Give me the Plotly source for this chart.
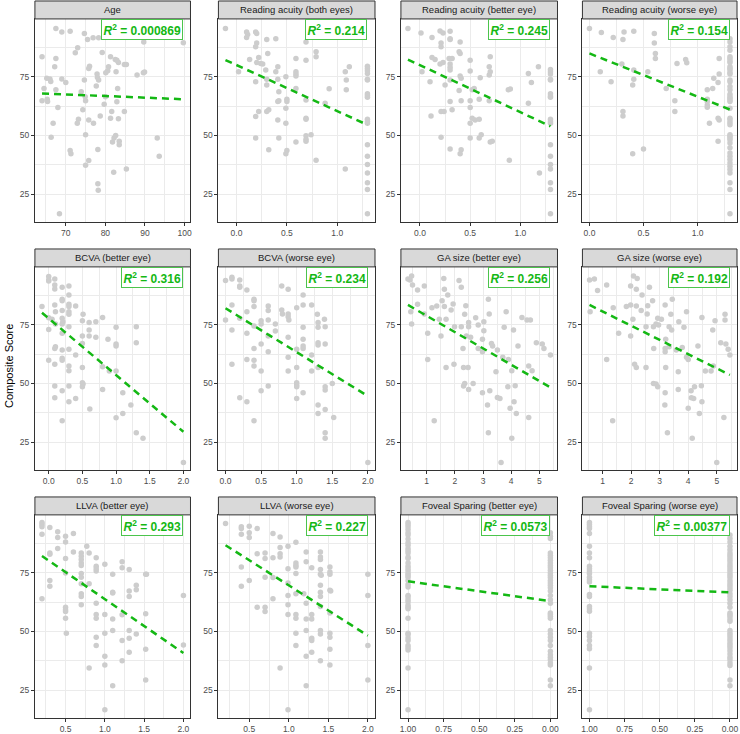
import plotly.graph_objects as go

# facet titles and R^2 labels
titles = ["Age", "Reading acuity (both eyes)", "Reading acuity (better eye)", "Reading acuity (worse eye)",
          "BCVA (better eye)", "BCVA (worse eye)", "GA size (better eye)", "GA size (worse eye)",
          "LLVA (better eye)", "LLVA (worse eye)", "Foveal Sparing (better eye)", "Foveal Sparing (worse eye)"]
r2 = ["0.000869", "0.214", "0.245", "0.154", "0.316", "0.234", "0.256", "0.192", "0.293", "0.227", "0.0573", "0.00377"]

# --- points ---
age_x = [67.5, 69, 71.1, 64, 67.5, 67.2, 65.2, 66, 66.2, 69,
         70, 64.5, 67.5, 64, 65.3, 65.4, 68, 66.8, 66.3, 71.1,
         71.3, 68.4, 74.7, 75.5, 76.9, 78.3, 73, 72.4, 79.2, 75.8,
         76, 77.9, 78, 78.3, 74.7, 77.7, 73.9, 74.9, 75, 74.3,
         73.2, 72.9, 75.8, 77, 78.7, 75, 78.1, 75.8, 75, 78.1,
         78.2, 80, 79.7, 81.3, 82.5, 82.9, 83.3, 84.8, 85.3, 80.8,
         80.6, 80.1, 82.7, 83.1, 82.9, 81.6, 81.3, 83.3, 84.8, 82.6,
         82.2, 81.8, 83.5, 83.5, 85.3, 82.1, 88, 89.6, 89.9, 89.7,
         99.7, 93.1, 93.6]
age_y = [95.5, 94, 94.3, 83.5, 82.8, 79.2, 74.3, 74, 73, 74,
         72.5, 70, 69.4, 64.8, 65.4, 64.4, 61.9, 55.2, 49.2, 43.6,
         42.2, 16.7, 93.4, 90.8, 91.6, 91.6, 87.3, 85.2, 85.3, 78.5,
         79.5, 76.1, 74.7, 73.6, 73.6, 71, 68.6, 66.5, 64.8, 60.9,
         56.9, 55.2, 56.6, 55.2, 58.3, 50.3, 44, 39.3, 37.3, 29.4,
         26.7, 66.5, 63.3, 83.5, 82.3, 82, 81, 80.2, 80.2, 79.2,
         77.5, 76.7, 77.1, 70, 64.3, 60.2, 57.3, 57.1, 60.2, 50,
         48.9, 47.2, 47.5, 46, 35.7, 34.3, 75.7, 76.7, 77, 89.8,
         89.5, 48.9, 41.1]

ra_both_x = [-0.11, 0.1, 0.11, 0.1, 0.19, 0.2, 0.3, 0.39, 0.2, 0.19,
             0.31, 0.13, 0.22, 0.2, 0.24, 0.26, 0.41, 0.29, 0.39, 0.02,
             0.19, 0.3, 0.3, 0.41, 0.42, 0.49, 0.41, 0.42, 0.5, 0.5,
             0.22, 0.3, 0.32, 0.19, 0.49, 0.41, 0.49, 0.19, 0.42, 0.32,
             0.5, 0.49, 0.59, 0.59, 0.59, 0.59, 0.59, 0.59, 0.69, 0.69,
             0.79, 0.79, 0.69, 0.69, 0.69, 0.69, 0.74, 0.69, 0.69, 0.79,
             0.92, 0.88, 1.09, 1.08, 1.12, 1.09, 1.08,
             1.3, 1.3, 1.3, 1.3, 1.3, 1.3, 1.3, 1.3, 1.3, 1.3,
             1.3, 1.3, 1.3, 1.3, 1.3, 1.3, 1.3, 1.3, 1.3]
ra_both_y = [95.5, 94, 93, 91.7, 94, 93.4, 90.8, 91.2, 89.4, 87.7,
             84.9, 82.3, 83.2, 81, 80.6, 80.4, 79.2, 77.8, 77.1, 77.1,
             72.9, 73.9, 71.5, 73.9, 68.6, 75, 64.4, 64.8, 65.4, 64.4,
             60.2, 60.2, 60.9, 58.1, 61.6, 56.6, 55.2, 48.9, 48.9, 43.9,
             43.6, 42.2, 47.2, 82.8, 77.1, 76.1, 75.3, 70, 82, 89.8,
             85.6, 83.5, 65.1, 57.3, 56.9, 49.9, 50.3, 48.4, 47.5, 39.4,
             69.9, 63.7, 73.6, 77.1, 79.2, 69.4, 35.7,
             79.5, 78.5, 77.5, 76.4, 73.9, 73.6, 67.7, 67, 66.3, 56.9,
             55.9, 55.2, 46, 41.1, 37.6, 34, 29.8, 27, 16.7]

ra_better_x = [-0.12, 0.01, 0.12, 0.2, 0.23, 0.3, 0.3, 0.3, 0.21, 0.21,
               0.4, 0.39, 0.4, 0.12, 0.15, 0.29, 0.32, 0.5, 0.2, 0.23,
               0.3, 0.3, 0.3, 0.02, 0.4, 0.41, 0.5, 0.6, 0.69, 0.7,
               0.7, 0.69, 0.1, 0.3, 0.25, 0.39, 0.54, 0.52, 0.3, 0.41,
               0.5, 0.59, 0.69, 0.5, 0.32, 0.21, 0.24, 0.11, 0.52, 0.55,
               0.59, 0.5, 0.61, 0.59, 0.5, 0.21, 0.7, 0.72, 0.3, 0.41,
               0.4, 0.89, 0.88, 0.9, 1.08, 1.08, 1.11, 1.18, 1.19,
               1.3, 1.3, 1.3, 1.3, 1.3, 1.3, 1.3, 1.3, 1.3, 1.3,
               1.3, 1.3, 1.3, 1.3, 1.3, 1.3, 1.3, 1.3]
ra_better_y = [95.5, 93.6, 91.7, 94.5, 93.6, 94.3, 91.2, 90.8, 89.4, 87.7,
               89.8, 85.6, 84.9, 83.2, 82.3, 82.8, 82.8, 82, 80.4, 81,
               80.4, 79, 77.8, 77.1, 75.3, 74.3, 77.4, 74.6, 79.2, 83.5,
               77.1, 75.7, 72.9, 73.6, 71.5, 69.1, 70, 69.4, 64.4, 64.8,
               64.8, 65.4, 64.8, 61.9, 60.9, 60.2, 60.2, 58.3, 57.3, 56.6,
               56.9, 55.2, 50.3, 48.9, 48.9, 49.2, 47.2, 47.5, 44.2, 43.9,
               42.2, 39.4, 69.4, 69.8, 63.7, 76.4, 72.5, 79.2, 34,
               78.1, 77.1, 76.1, 73.9, 73.6, 67.7, 66.8, 66.3, 56.9, 55.9,
               55.2, 46, 41.1, 37.6, 35.7, 29.8, 27, 16.7]

ra_worse_x = [0, 0.11, 0.22, 0.31, 0.32, 0.41, 0.6, 0.6, 0.61, 0.61,
              0.3, 0.41, 0.41, 0.4, 0.1, 0.2, 0.54, 0.71, 0.81, 0.89,
              0.9, 0.79, 0.79, 0.31, 0.31, 0.4, 0.5, 1.09, 1.09, 1.09,
              1.09, 1.09, 1.14, 1.15, 1.2, 1.2, 1.19, 1.19, 1.2, 1.11,
              1.19,
              1.3, 1.3, 1.3, 1.3, 1.3, 1.3, 1.3, 1.3, 1.3, 1.3,
              1.3, 1.3, 1.3, 1.3, 1.3, 1.3, 1.3, 1.3, 1.3, 1.3,
              1.3, 1.3, 1.3, 1.3, 1.3, 1.3, 1.3, 1.3, 1.3, 1.3,
              1.3, 1.3, 1.3, 1.3, 1.3, 1.3, 1.3, 1.3, 1.3, 1.3,
              1.3, 1.3, 1.3]
ra_worse_y = [95.5, 93.8, 91.7, 90.8, 94, 94.3, 93.4, 89.4, 84.9, 82.8,
              80.4, 77.8, 73.9, 71.5, 77.1, 72.9, 77.1, 70, 80.6, 82.3,
              80.9, 64.8, 60.2, 60.2, 58.3, 42.2, 44.2, 69.4, 65.4, 64.4,
              63, 62, 70, 74.3, 82.8, 76.1, 72.5, 57.3, 56.6, 55.2,
              47.5,
              91.2, 89.8, 87.7, 86.3, 83.5, 82.8, 81.8, 81, 79.2, 78.5,
              77.8, 76.7, 76.1, 73.6, 72.9, 70.8, 69.4, 67.5, 66.5, 65.8,
              65.1, 64.4, 61.6, 57.3, 56.6, 55.5, 54.5, 50.3, 49.6, 48.9,
              48.2, 46.8, 44.7, 42.5, 41.1, 39.7, 38.3, 36.9, 35.5, 34,
              29.8, 27, 16.7]

bcva_better_x = [-0.1, 0, 0, 0, 0.09, 0.09, 0.09, 0.2, 0.3, 0.3,
                 0.2, 0.2, 0.09, 0.3, 0.3, 0.4, 0.2, 0.1, 0.3, 0.3,
                 0.51, 0, 0.05, 0.2, 0.21, 0.2, 0.1, 0.3, 0, 0.5,
                 0.6, 0.7, 0.8, 0.2, 0.6, 0.5, 0.6, 0.7, 0.88, 1.0,
                 1.3, 0.5, 0.1, 0.09, 0.2, 0.3, 1.0, 1.0, 1.3, 0.4,
                 0.2, 0.2, 0, 0.09, 0.3, 0.3, 0.5, 0.8, 0.9, 1.0,
                 0.5, 0.51, 0.5, 0.09, 0.3, 0.8, 0.2, 0.09, 0.4, 0.3,
                 1.1, 0.61, 1.22, 1.0, 1.1, 0.2, 1.3, 1.4, 2.0]
bcva_better_y = [82.7, 95.5, 94, 93.6, 94.5, 91.9, 90.2, 90.9, 91.5, 87.6,
                 85.8, 85.2, 83.4, 83.7, 82.7, 83, 81, 80.5, 80.5, 79.4,
                 79.4, 78, 77.3, 77.7, 76.3, 75.3, 75.3, 74.1, 73, 76.7,
                 75.9, 76.3, 78.1, 71.3, 72.7, 70.2, 70.2, 69.6, 68.8, 73.9,
                 74.1, 67, 65.6, 64.9, 64.2, 64.5, 66.8, 65.9, 67.3, 62.1,
                 60.7, 59.9, 59.9, 58.2, 57.4, 55.4, 56.8, 57.1, 55.3, 55.3,
                 50.3, 49.7, 48.6, 48.9, 48.9, 47.4, 46.9, 43.9, 43.6, 42.2,
                 46, 39.1, 40.8, 35.4, 37.2, 34.1, 29, 26.6, 16.3]

bcva_worse_x = [0, 0.09, 0.09, 0.2, 0.2, 0.2, 0.3, 0.09, 0.4, 0.4,
                0.4, 0.3, 0.2, 0, 0.09, 0.3, 0.4, 0.5, 0.5, 0.6,
                0.6, 0.6, 0.7, 0.7, 0.6, 0.4, 0.5, 0.6, 0.79, 0.88,
                0.79, 0.8, 0.88, 0.88, 0.89, 1.0, 1.09, 1.09, 1.21, 1.09,
                0.88, 1.09, 1.09, 1.09, 1.0, 1.21, 1.29, 1.3, 1.3, 1.39,
                1.4, 1.3, 1.3, 1.4, 0.09, 0.3, 0.4, 0.4, 0.5, 1.0,
                0.88, 0.88, 1.21, 1.3, 1.0, 1.0, 1.0, 1.09, 1.4, 1.4,
                1.5, 0.5, 0.6, 0.2, 0.3, 1.0, 1.3, 1.4, 1.3, 1.52,
                0.4, 1.4, 1.4, 2.0]
bcva_worse_y = [93.8, 95.2, 94.5, 94, 91.5, 90.9, 89.8, 83.4, 85.8, 85.2,
                82.7, 80.5, 77.7, 77, 72.7, 71.3, 74.4, 76.7, 75.3, 83,
                81, 77, 75.3, 72.3, 70.2, 64.9, 66.8, 63.5, 91.5, 90.1,
                81.3, 79.5, 79.5, 78.4, 77, 82.2, 87.6, 83.4, 83.4, 73.9,
                69.6, 68.8, 65.9, 64.9, 64.5, 62.1, 79.4, 75.9, 73.9, 77.3,
                74.1, 67.3, 66.3, 66.8, 58.2, 60.2, 59.9, 57.4, 55.3, 56.8,
                55.3, 61.1, 55.3, 56.8, 50.3, 49.3, 48.6, 46, 48.6, 47.2,
                50, 46.9, 48.9, 43.9, 42.2, 43.6, 40.8, 38.9, 37.2, 35.5,
                34.1, 29, 26.6, 16.3]

ga_better_x = [0.34, 0.41, 0.47, 0.5, 0.68, 0.92, 1.61, 2.15, 2.23, 1.63,
               1.75, 0.44, 0.68, 1.19, 1.36, 1.63, 1.55, 1.94, 1.87, 2.39,
               2.35, 3.19, 3.22, 3.82, 0.47, 0.92, 1.45, 1.69, 1.99, 2.23,
               2.49, 2.49, 2.74, 2.83, 3.03, 3.03, 3.75, 4.08, 4.38, 4.56,
               4.68, 1.04, 1.51, 2.41, 2.56, 2.29, 2.83, 2.98, 2.98, 3.3,
               3.34, 3.51, 4.24, 4.89, 5.1, 5.16, 5.39, 1.04, 1.97, 1.69,
               2.31, 2.47, 3.7, 3.9, 4.02, 3.46, 4.62, 4.74, 2.35, 2.31,
               2.65, 2.49, 3.88, 4.14, 2.98, 3.24, 3.51, 3.6, 4.1, 3.16,
               3.96, 4.18, 4.62, 1.27, 3.19, 4.02, 3.64]
ga_better_y = [94.5, 94, 95.7, 91.9, 89.8, 91.5, 94.7, 93.8, 90.9, 90.1,
               87.6, 80.5, 83.7, 82.2, 83, 82.7, 85.2, 83.8, 81.3, 83.1,
               79.4, 85.8, 79.5, 80.5, 75.3, 79.5, 77.3, 77.3, 74.1, 74.1,
               75.9, 74.1, 78, 74.9, 76.3, 72.4, 73.9, 72.7, 78.1, 77,
               77, 71.3, 70.2, 70.2, 69.6, 64.9, 64.9, 68.8, 63.5, 67,
               65.9, 64.2, 65.9, 67.3, 66.8, 64.9, 62.1, 60.2, 58.2, 56.8,
               56.8, 56.8, 61.1, 60.2, 55.4, 55, 57.4, 55.4, 50, 48.9,
               50, 47.4, 48.6, 49, 46, 46.9, 44, 43.6, 42.2, 40.8,
               39.4, 37.2, 35.5, 34.1, 29, 26.6, 16.3]

ga_worse_x = [0.54, 0.71, 0.82, 1.14, 2.08, 2.21, 1.98, 2.18, 2.64, 2.38,
              2.75, 3.44, 0.56, 1.37, 1.83, 1.98, 2.18, 2.58, 2.35, 2.56,
              3.19, 3.94, 3.39, 2.06, 2.93, 3.06, 3.67, 4.48, 4.94, 5.29,
              5.29, 1.56, 1.98, 2.52, 2.78, 2.87, 2.96, 3.33, 3.42, 3.85,
              4.86, 2.79, 3.21, 3.19, 3.19, 3.33, 3.58, 3.79, 4.34, 5.14,
              5.32, 5.4, 5.46, 3.94, 4.0, 1.14, 2.12, 2.18, 2.52, 3.21,
              3.65, 4.6, 4.8, 4.88, 2.78, 2.87, 2.93, 3.65, 4.1, 4.22,
              4.46, 3.19, 4.11, 4.19, 4.48, 3.18, 4.0, 4.39, 5.25, 1.35,
              3.27, 4.14, 5.0]
ga_worse_y = [94, 94.5, 89.5, 91.9, 95.7, 94.7, 91.5, 90.1, 90.9, 87.6,
              85.2, 85.8, 80.5, 82.2, 82.7, 83.4, 83, 83.1, 81, 79.5,
              83.4, 80.5, 79.4, 77.3, 77.7, 77.3, 76.3, 78.1, 76.7, 77,
              79.4, 71.3, 70.2, 74.1, 74.1, 75.3, 74.9, 74.1, 72.7, 73.9,
              72.7, 64.9, 68.8, 64.9, 63.5, 65.6, 64.2, 65.3, 65.9, 67.3,
              66.8, 64.5, 62.1, 61.1, 60.2, 60.2, 58.2, 56.8, 56.8, 56.8,
              55, 55.3, 55.3, 57.4, 50, 49.7, 48.6, 47.4, 46.9, 48.6,
              49, 46, 43.9, 43.6, 42.2, 40.8, 39.4, 37.2, 35.5, 34.1,
              29, 26.6, 16.3]

llva_better_x = [0.2, 0.2, 0.2, 0.2, 0.3, 0.4, 0.4, 0.5, 0.5, 0.6,
                 0.3, 0.3, 0.4, 0.5, 0.6, 0.7, 0.7, 0.7, 0.7, 0.7,
                 0.77, 0.8, 0.89, 1.0, 0.89, 0.89, 0.89, 0.7, 0.5, 0.3,
                 0.3, 0.7, 0.7, 0.8, 0.2, 0.7, 0.7, 0.7, 1.1, 1.22,
                 1.22, 1.31, 1.52, 1.53, 1.1, 1.1, 1.31, 1.31, 1.4, 1.4,
                 0.89, 2.0, 0.5, 0.5, 0.5, 0.5, 0.89, 0.89, 1.0, 1.1,
                 1.22, 1.52, 0.51, 1.0, 1.1, 1.31, 1.4, 1.31, 0.89, 0.89,
                 1.22, 1.52, 2.0, 1.31, 1.0, 1.22, 1.0, 0.8, 1.52, 1.1,
                 1.0]
llva_better_y = [96.4, 95.5, 94.5, 91.4, 94.2, 92.4, 90, 90.5, 88.1, 91.7,
                 83.4, 82.8, 85.3, 81, 83.8, 83.4, 82, 80.6, 79.1, 78.1,
                 86.3, 83.4, 81.4, 78.6, 77.7, 76.7, 75.7, 74.6, 74.9, 71.7,
                 69.2, 73.1, 70.3, 70.3, 63.9, 66, 64.9, 61.3, 74.3, 79.6,
                 77.1, 76.3, 74.3, 74.3, 66.7, 66.3, 67.2, 64.9, 69.6, 67.7,
                 62, 65.3, 60.3, 59.2, 58.5, 55.6, 57.2, 55.6, 57.2, 55.3,
                 57.1, 57.5, 49.2, 49.2, 50.4, 50.4, 48.9, 47.1, 47.5, 44,
                 46.1, 42.4, 44.2, 41.1, 39.4, 37.5, 35.7, 34.4, 29.3, 26.9,
                 16.6]

llva_worse_x = [0.2, 0.4, 0.4, 0.5, 0.5, 0.6, 0.4, 0.5, 0.8, 0.89,
                1.09, 0.89, 0.99, 0.89, 0.89, 0.6, 0.7, 0.7, 0.8, 1.09,
                1.09, 1.09, 1.22, 1.22, 1.4, 1.4, 1.4, 1.52, 1.4, 1.29,
                0.99, 1.09, 1.4, 1.41, 1.52, 1.52, 2.0, 0.4, 0.5, 0.4,
                0.7, 0.8, 0.99, 1.09, 1.19, 1.4, 1.4, 1.4, 1.52, 1.53,
                0.99, 2.0, 0.6, 0.7, 0.7, 0.8, 0.99, 1.22, 0.99, 1.09,
                1.09, 1.22, 1.29, 1.29, 1.4, 1.52, 1.09, 1.22, 1.4, 1.4,
                1.52, 1.52, 1.29, 1.29, 1.09, 2.0, 1.52, 1.29, 1.22, 1.4,
                1.52, 0.89, 2.0, 1.22, 0.99]
llva_worse_y = [95.9, 94.5, 93.8, 94.8, 92, 93.8, 91.4, 90, 91.7, 90.2,
                88, 85.7, 86.3, 83.1, 81.7, 83.1, 83.4, 81, 81.4, 79.1,
                78.1, 77.4, 83.8, 79.6, 83.8, 81.7, 80.6, 77.4, 76.3, 77.1,
                76.7, 74.6, 74.3, 73.9, 75.3, 74.3, 74.3, 77.4, 71.7, 69.2,
                73.1, 72.9, 70.6, 66, 66, 69.6, 66.7, 64.9, 67.5, 67.2,
                65.3, 65.3, 60.3, 60.3, 58.5, 63.9, 61.3, 62, 57.2, 57.2,
                55.6, 55.3, 57.2, 55.3, 60.6, 57.8, 49.2, 50.4, 50.4, 48.9,
                49.2, 47.5, 47.1, 46.1, 44, 44, 42.4, 41.1, 39.4, 37.5,
                35.7, 34.4, 29.3, 26.9, 16.6]

# foveal sparing: 1 = spared, 0 = not spared
fov_better_x = [1, 1, 1, 1, 1, 1, 1, 1, 1, 1,
                1, 1, 1, 1, 1, 1, 1, 1, 1, 1,
                1, 1, 1, 1, 1, 1, 1, 1, 1, 1,
                1, 1, 1, 1, 1, 1, 1, 1, 1, 1,
                1,
                0, 0, 0, 0, 0, 0, 0, 0, 0, 0,
                0, 0, 0, 0, 0, 0, 0, 0, 0, 0,
                0, 0, 0, 0, 0, 0, 0, 0, 0, 0,
                0, 0, 0, 0, 0, 0, 0, 0, 0]
fov_better_y = [96.4, 95.5, 94.5, 93.4, 92, 91, 89.3, 87.7, 86.7, 85.3,
                84.3, 83.4, 81.7, 81, 79.1, 77.7, 76.7, 75.7, 74.6, 73.9,
                73.1, 71.7, 70, 68.9, 65.3, 64.6, 63.5, 62.5, 61.1, 60.3,
                59.6, 55.6, 49.2, 48.6, 47.2, 46.1, 44, 43, 42.1, 34.4,
                16.6,
                92, 90.5, 89.5, 83.4, 82.4, 81.4, 80.3, 79.1, 78.1, 77.1,
                76, 74.9, 73.9, 72.9, 71.7, 70.6, 69.6, 68.6, 67.2, 65.3,
                63.5, 62, 57.8, 57.2, 56.4, 55.6, 50.4, 48.9, 47.5, 46.1,
                44, 41.5, 40.1, 39, 37.9, 36.5, 35.7, 29.3, 26.9]

fov_worse_x = [1, 1, 1, 1, 1, 1, 1, 1, 1, 1,
               1, 1, 1, 1, 1, 1, 1, 1, 1, 1,
               1, 1, 1, 1, 1, 1, 1,
               0, 0, 0, 0, 0, 0, 0, 0, 0, 0,
               0, 0, 0, 0, 0, 0, 0, 0, 0, 0,
               0, 0, 0, 0, 0, 0, 0, 0, 0, 0,
               0, 0, 0, 0, 0, 0, 0, 0, 0, 0,
               0, 0, 0, 0, 0, 0, 0]
fov_worse_y = [96.4, 95.5, 94.5, 93.8, 91.7, 86.3, 83.4, 81.4, 77.7, 76.7,
               75.7, 74.6, 73.1, 72, 71, 65.7, 64.9, 60.6, 59.6, 58.6,
               49.2, 47.8, 46.1, 44, 42.6, 34.4, 16.6,
               91, 89.5, 88.1, 86.3, 84.8, 83.4, 82.4, 81.4, 80.3, 79.1,
               78.1, 77.1, 76, 74.9, 73.9, 72.9, 71.7, 70.6, 69.6, 68.6,
               67.5, 66, 64.9, 63.5, 62, 60.3, 57.8, 57.2, 56.4, 55.3,
               54.3, 50.4, 49.2, 48.2, 47.2, 46.1, 45, 44, 43, 41.8,
               40.4, 39, 37.9, 36.5, 35.5, 29.3, 26.9]

# fitted lines (end points)
fit_x = [[64, 99.7], [-0.11, 1.3], [-0.12, 1.3], [0, 1.3],
         [-0.1, 2.0], [0, 2.0], [0.34, 5.39], [0.54, 5.46],
         [0.2, 2.0], [0.2, 2.0], [1, 0], [1, 0]]
fit_y = [[67.9, 65.4], [82.1, 54.5], [82.3, 53.9], [84.9, 61.0],
         [80.1, 29.4], [82.0, 44.6], [83.4, 48.3], [83.4, 53.6],
         [82.1, 40.8], [86.7, 48.2], [71.3, 62.9], [69.2, 66.6]]

xs_all = [age_x, ra_both_x, ra_better_x, ra_worse_x, bcva_better_x, bcva_worse_x,
          ga_better_x, ga_worse_x, llva_better_x, llva_worse_x, fov_better_x, fov_worse_x]
ys_all = [age_y, ra_both_y, ra_better_y, ra_worse_y, bcva_better_y, bcva_worse_y,
          ga_better_y, ga_worse_y, llva_better_y, llva_worse_y, fov_better_y, fov_worse_y]

# axis settings per facet
x_ranges = [[62.2, 101.5], [-0.18, 1.375], [-0.19, 1.37], [-0.065, 1.365],
            [-0.205, 2.105], [-0.1, 2.1], [0.09, 5.64], [0.29, 5.71],
            [0.11, 2.09], [0.11, 2.09], [1.05, -0.05], [1.05, -0.05]]
x_dtick = [10, 0.5, 0.5, 0.5, 0.5, 0.5, 1, 1, 0.5, 0.5, 0.25, 0.25]
x_fmt = ["d", ".1f", ".1f", ".1f", ".1f", ".1f", "d", "d", ".1f", ".1f", ".2f", ".2f"]

W, H = 740, 734
cols = [(34, 190), (218, 375), (401, 558), (583, 738)]
rows = [(19, 223), (268, 472), (517, 721)]
strip_h = 18
green = "#14B814"
grid = "#EBEBEB"
font_family = "Liberation Sans, Arial"
tickfont = dict(family=font_family, size=8.5, color="#4D4D4D")

fig = go.Figure()
annotations = []
shapes = []
layout = {}

for i in range(12):
    r, c = divmod(i, 4)
    n = "" if i == 0 else str(i + 1)
    xs, ys = xs_all[i], ys_all[i]

    fig.add_trace(go.Scatter(x=xs, y=ys, mode="markers", xaxis="x" + n, yaxis="y" + n,
                             marker=dict(color="#CDCDCD", size=5.5), hoverinfo="skip"))
    fig.add_trace(go.Scatter(x=fit_x[i], y=fit_y[i], mode="lines", xaxis="x" + n, yaxis="y" + n,
                             line=dict(color=green, width=2.5, dash="7px,5px"), hoverinfo="skip"))

    common = dict(showgrid=True, gridcolor=grid, gridwidth=1, zeroline=False,
                  showline=True, mirror=True, linecolor="#333333", linewidth=1,
                  ticks="outside", ticklen=3, tickcolor="#333333", tickfont=tickfont)
    layout["xaxis" + n] = dict(domain=[cols[c][0] / W, cols[c][1] / W], anchor="y" + n,
                               range=x_ranges[i], tick0=0, dtick=x_dtick[i], tickformat=x_fmt[i],
                               minor=dict(tick0=0, dtick=x_dtick[i] / 2, showgrid=True,
                                          gridcolor=grid, gridwidth=0.5),
                               **common)
    layout["yaxis" + n] = dict(domain=[1 - rows[r][1] / H, 1 - rows[r][0] / H], anchor="x" + n,
                               range=[13.1, 99.6], tick0=0, dtick=25,
                               minor=dict(tick0=0, dtick=12.5, showgrid=True,
                                          gridcolor=grid, gridwidth=0.5),
                               **common)

    # strip
    shapes.append(dict(type="rect", xref="paper", yref="paper",
                       x0=cols[c][0] / W, x1=cols[c][1] / W,
                       y0=1 - rows[r][0] / H, y1=1 - (rows[r][0] - strip_h) / H,
                       fillcolor="#D9D9D9", line=dict(color="#333333", width=1)))
    annotations.append(dict(xref="paper", yref="paper", showarrow=False,
                            x=(cols[c][0] + cols[c][1]) / 2 / W,
                            y=1 - (rows[r][0] - strip_h / 2) / H,
                            xanchor="center", yanchor="middle",
                            text=titles[i], font=dict(family=font_family, size=9.5, color="#1A1A1A")))

    # R^2 label, right edge at the rightmost point
    reversed_axis = x_ranges[i][0] > x_ranges[i][1]
    x_right = min(xs) if reversed_axis else max(xs)
    annotations.append(dict(xref="x" + n, yref="y" + n + " domain", x=x_right, y=1,
                            xanchor="right", yanchor="top", showarrow=False,
                            text="<b><i>R</i><sup>2</sup> = " + r2[i] + "</b>",
                            font=dict(family=font_family, size=12, color=green),
                            bgcolor="white", bordercolor="#4CC44C", borderwidth=1, borderpad=1.5))

annotations.append(dict(xref="paper", yref="paper", x=7.5 / W, y=1 - 367 / H, showarrow=False,
                        xanchor="center", yanchor="middle",
                        text="Composite Score", textangle=-90,
                        font=dict(family=font_family, size=11, color="black")))

fig.update_layout(width=W, height=H, margin=dict(l=0, r=0, t=0, b=0),
                  plot_bgcolor="white", paper_bgcolor="white", showlegend=False,
                  annotations=annotations, shapes=shapes, **layout)

fig.write_html("out.html", config={"displayModeBar": False},
               post_script="document.body.style.margin='0';")
